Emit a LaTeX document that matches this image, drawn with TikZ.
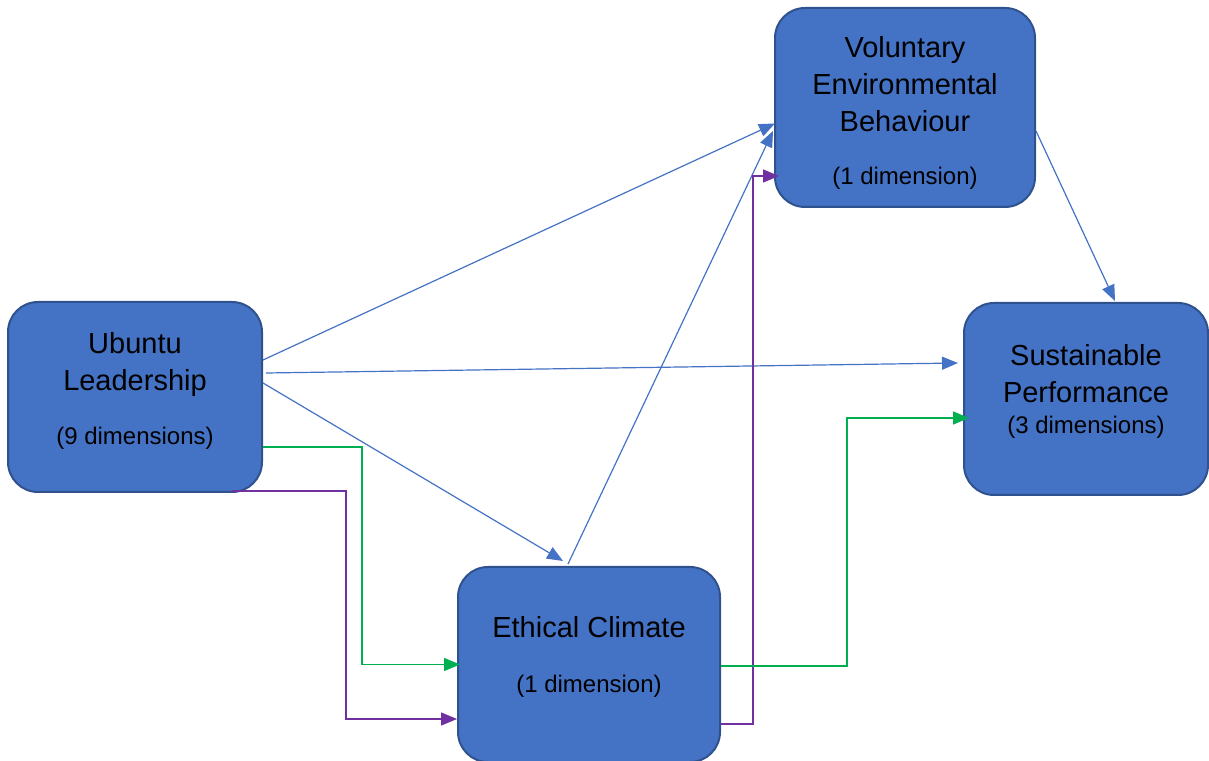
\documentclass[tikz,border=0pt]{standalone}
\usepackage{fontspec}
\setmainfont{Liberation Sans}
\usetikzlibrary{arrows.meta}
\usetikzlibrary{calc}
\usepackage{xcolor}
\definecolor{boxfill}{HTML}{4472C4}
\definecolor{boxline}{HTML}{2F528F}
\definecolor{linkblue}{HTML}{4472C4}
\definecolor{linkgreen}{HTML}{00B050}
\definecolor{linkpurple}{HTML}{7030A0}
\newcommand{\dimsize}{\fontsize{24}{30}\selectfont}

\begin{document}
\begin{tikzpicture}[
		x=1pt, y=1pt,
		% Boxes and their texts
		box/.style={draw=boxline, line width=2pt, rounded corners=30pt, fill=boxfill, inner sep=0pt},
		boxtext/.style={align=center, font=\fontsize{29}{37}\selectfont, inner sep=0pt},
		% Connectors
		link/.style={-{Triangle[length=16pt, width=13pt]}},
		direct/.style={link, color=linkblue, line width=1.2pt},
		viagreen/.style={link, color=linkgreen, line width=1.5pt},
		viapurple/.style={link, color=linkpurple, line width=1.5pt},
		]
		\useasboundingbox (0,0) rectangle (1209,760);

		% Constructs
		\node[box, minimum width=254pt, minimum height=190pt] (ubuntu) at (135,363) {};
		\node[box, minimum width=260pt, minimum height=199pt] (veb) at (905,652.5) {};
		\node[box, minimum width=244pt, minimum height=192pt] (sustain) at (1086,361) {};
		\node[box, minimum width=262pt, minimum height=195pt] (ethical) at (589,95.5) {};

		\node[boxtext] (ubuntu-text) at ([yshift=6pt]ubuntu.center) {Ubuntu\\Leadership\\[17pt]{\dimsize (9 dimensions)}};
		\node[boxtext] (veb-text) at ([yshift=-5pt]veb.center) {Voluntary\\Environmental\\Behaviour\\[16pt]{\dimsize (1 dimension)}};
		\node[boxtext] (sustain-text) at ([yshift=8pt]sustain.center) {Sustainable\\Performance\\[-6pt]{\dimsize (3 dimensions)}};
		\node[boxtext] (ethical-text) at ([yshift=8pt]ethical.center) {Ethical Climate\\[18pt]{\dimsize (1 dimension)}};

		% Direct paths
		\draw[direct] ($(ubuntu.east)+(0,37)$) -- ($(veb.west)+(1,-16)$);
		\draw[direct] ($(ubuntu.east)+(3,24)$) -- ($(sustain.west)+(-5,36)$);
		\draw[direct] ($(ubuntu.east)+(0,14)$) -- ($(ethical.north)+(-26,5)$);
		\draw[direct] ($(ethical.north)+(-21,2)$) -- ($(veb.west)+(-1,-23.5)$);
		\draw[direct] ($(veb.east)+(0,-23.5)$) -- ($(sustain.north)+(29,1)$);

		% Mediated paths
		\draw[viagreen] ($(ubuntu.east)+(0,-50)$) -- ++(99,0) |- ($(ethical.west)+(3,0)$);
		\draw[viapurple] ($(ubuntu.south)+(97,2)$) -- ++(114,0) |- ($(ethical.west)+(0,-54.5)$);
		\draw[viapurple] ($(ethical.east)+(0,-59.5)$) -- ++(32,0) |- ($(veb.west)+(5,-68.5)$);
		\draw[viagreen] ($(ethical.east)+(0,-1.5)$) -- ++(126,0) |- ($(sustain.west)+(6,-19)$);

	\end{tikzpicture}
\end{document}
